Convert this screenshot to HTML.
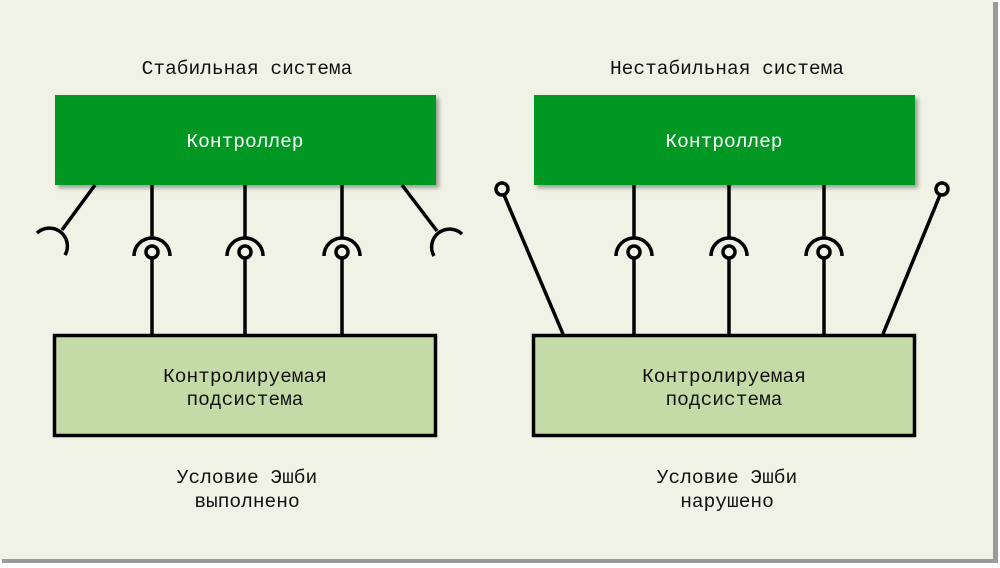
<!DOCTYPE html>
<html><head><meta charset="utf-8"><style>
html,body{margin:0;padding:0;background:#fff;}
svg{display:block}
text{font-family:"Liberation Mono",monospace;font-size:19.5px;}
</style></head><body>
<svg width="1000" height="568" viewBox="0 0 1000 568" xmlns="http://www.w3.org/2000/svg">
<defs>
<filter id="sh" x="-5%" y="-5%" width="115%" height="130%"><feDropShadow dx="3" dy="3" stdDeviation="2" flood-color="#000" flood-opacity="0.35"/></filter>
</defs>
<rect x="0" y="0" width="1000" height="568" fill="#fff"/>
<rect x="2" y="2" width="996" height="561" fill="#9a9a9a"/>
<rect x="0" y="0" width="993" height="559" fill="#eff2e5"/>

<text x="247" y="74" text-anchor="middle" fill="#111">Стабильная система</text>
<text x="727" y="74" text-anchor="middle" fill="#111">Нестабильная система</text>

<rect x="55" y="95" width="381" height="90" fill="#009820" filter="url(#sh)"/>
<rect x="534" y="95" width="381" height="90" fill="#009820" filter="url(#sh)"/>
<text x="245" y="147" text-anchor="middle" fill="#fff">Контроллер</text>
<text x="724" y="147" text-anchor="middle" fill="#fff">Контроллер</text>

<g stroke="#000" stroke-width="3.5" fill="none">
<g id="s1">
<line x1="152" y1="185" x2="152" y2="237"/>
<path d="M134 256 A18 18 0 0 1 170 256"/>
<circle cx="152" cy="252" r="6"/>
<line x1="152" y1="258" x2="152" y2="334"/>
</g>
<use href="#s1" transform="translate(93,0)"/>
<use href="#s1" transform="translate(190,0)"/>
<use href="#s1" transform="translate(482,0)"/>
<use href="#s1" transform="translate(577,0)"/>
<use href="#s1" transform="translate(672,0)"/>
<line x1="95" y1="185" x2="62" y2="230"/>
<path d="M37 233 A18 18 0 0 1 65 255"/>
<line x1="402" y1="185" x2="437" y2="231"/>
<path d="M462 234 A18 18 0 0 0 434 256"/>
<circle cx="502" cy="189" r="6"/>
<line x1="504" y1="195" x2="563" y2="334"/>
<circle cx="942" cy="189" r="6"/>
<line x1="940" y1="195" x2="883" y2="334"/>
</g>

<rect x="54.5" y="335.5" width="381" height="100" fill="#c4dba8" stroke="#000" stroke-width="3.5"/>
<rect x="533.5" y="335.5" width="381" height="100" fill="#c4dba8" stroke="#000" stroke-width="3.5"/>
<text x="245" y="382" text-anchor="middle" fill="#111">Контролируемая</text>
<text x="245" y="405" text-anchor="middle" fill="#111">подсистема</text>
<text x="724" y="382" text-anchor="middle" fill="#111">Контролируемая</text>
<text x="724" y="405" text-anchor="middle" fill="#111">подсистема</text>

<text x="247" y="483" text-anchor="middle" fill="#111">Условие Эшби</text>
<text x="247" y="507" text-anchor="middle" fill="#111">выполнено</text>
<text x="727" y="483" text-anchor="middle" fill="#111">Условие Эшби</text>
<text x="727" y="507" text-anchor="middle" fill="#111">нарушено</text>
</svg>
</body></html>
